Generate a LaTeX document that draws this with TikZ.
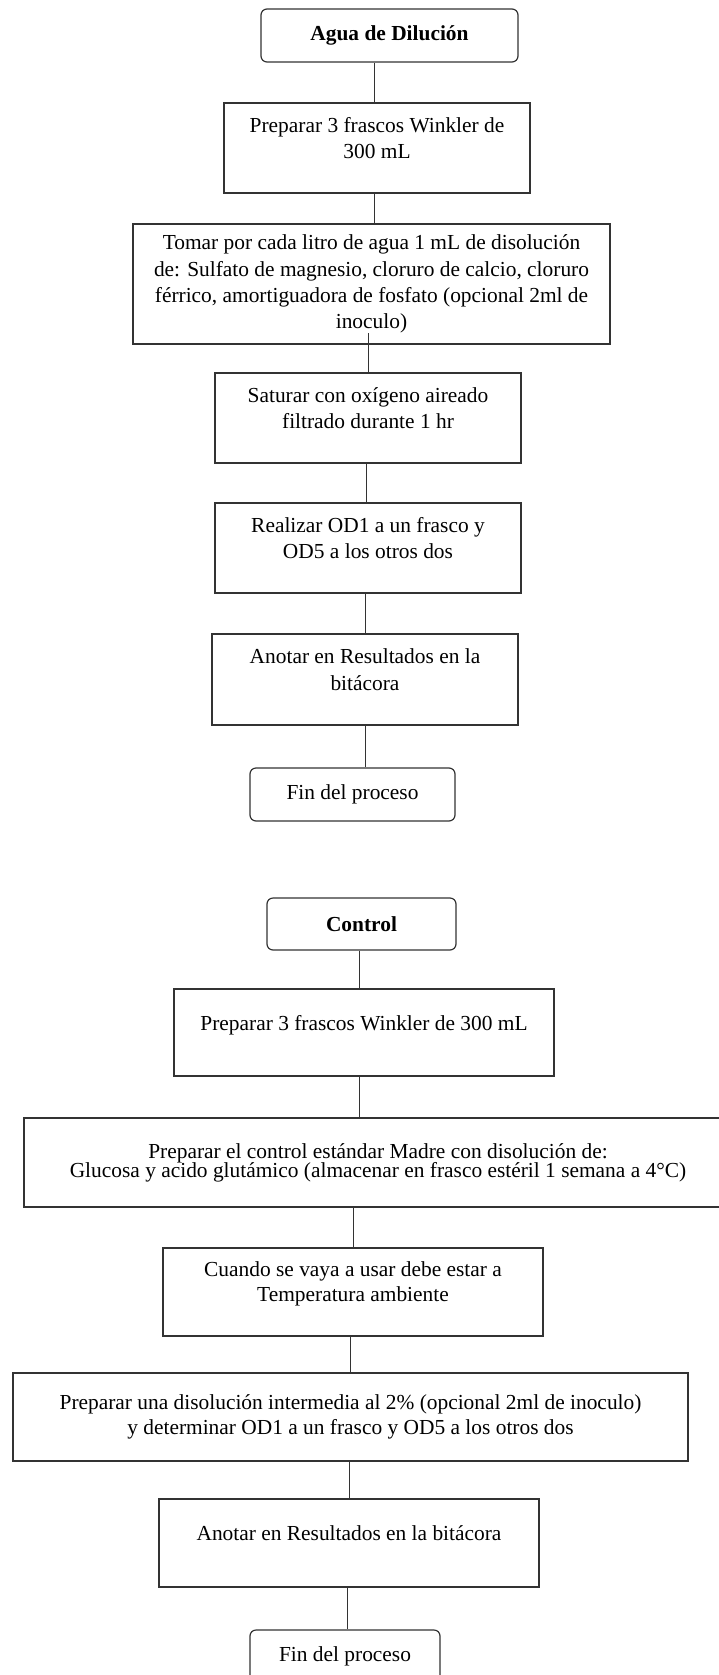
\documentclass[tikz,border=0pt]{standalone}
\usepackage{fontspec}
\setmainfont{Liberation Serif}
\setlength{\lineskiplimit}{-10pt}
\begin{document}
\begin{tikzpicture}[x=0.5pt,y=-0.5pt]
        \tikzstyle{every node}=[font=\fontsize{10.7}{13.4}\selectfont, align=center, inner sep=0pt]
        \tikzstyle{linea}=[draw=black!80, line width=0.6pt]
        \tikzstyle{inicio}=[linea, rounded corners=3pt]
        \tikzstyle{paso}=[linea]
        \tikzstyle{pasoarriba}=[linea, execute at end node={\rule[-10pt]{0pt}{10pt}}]
        \tikzstyle{conector}=[draw=black!80, line width=0.5pt]
        \useasboundingbox (0,0) rectangle (718,1675);
        % Agua de Dilucion
        \node[inicio, minimum width=128.5pt, minimum height=26.5pt, font=\fontsize{10.7}{13.4}\selectfont\bfseries] (agua) at (389.5,35.5) {Agua de Dilución};
        \node[pasoarriba, minimum width=153pt, minimum height=45pt] (frascos) at (377,148) {Preparar 3 frascos Winkler de\\300 mL};
        \node[paso, minimum width=238.5pt, minimum height=60pt, font=\fontsize{10.7}{13.1}\selectfont] (tomar) at (371.5,284) {Tomar por cada litro de agua 1 mL de disolución\\de: Sulfato de magnesio, cloruro de calcio, cloruro\\férrico, amortiguadora de fosfato (opcional 2ml de\\inoculo)};
        \node[pasoarriba, minimum width=153pt, minimum height=45pt] (saturar) at (368,418) {Saturar con oxígeno aireado\\filtrado durante 1 hr};
        \node[pasoarriba, minimum width=153pt, minimum height=45pt] (realizar) at (368,548) {Realizar OD1 a un frasco y\\OD5 a los otros dos};
        \node[pasoarriba, minimum width=153pt, minimum height=45.5pt] (anotar) at (365,679.5) {Anotar en Resultados en la\\bitácora};
        \node[inicio, minimum width=102.5pt, minimum height=26.5pt] (fin) at (352.5,794.5) {Fin del proceso};
        \draw[conector] ([xshift=-1.5pt]frascos.north) -- ([xshift=-1.5pt]frascos.north |- agua.south);
        \draw[conector] ([xshift=-1.5pt]frascos.south) -- ([xshift=-1.5pt]frascos.south |- tomar.north);
        \draw[conector] (saturar.north) -- ([yshift=6pt]saturar.north |- tomar.south);
        \draw[conector] ([xshift=-1pt]realizar.north) -- ([xshift=-1pt]realizar.north |- saturar.south);
        \draw[conector] (anotar.north) -- (anotar.north |- realizar.south);
        \draw[conector] (anotar.south) -- (anotar.south |- fin.north);
        % Control
        \node[inicio, minimum width=94.5pt, minimum height=26pt, font=\fontsize{10.7}{13.4}\selectfont\bfseries] (control) at (361.5,924) {Control};
        \node[pasoarriba, minimum width=190pt, minimum height=43.5pt] (frascosb) at (364,1032.5) {Preparar 3 frascos Winkler de 300 mL};
        \node[paso, minimum width=354pt, minimum height=44.5pt, font=\fontsize{10.7}{9.6}\selectfont] (madre) at (378,1162.5) {Preparar el control estándar Madre con disolución de:\\Glucosa y acido glutámico (almacenar en frasco estéril 1 semana a 4°C)};
        \node[pasoarriba, minimum width=190pt, minimum height=44pt, font=\fontsize{10.7}{12.5}\selectfont] (cuando) at (353,1292) {Cuando se vaya a usar debe estar a\\Temperatura ambiente};
        \node[paso, minimum width=337.5pt, minimum height=44pt, font=\fontsize{10.7}{12.5}\selectfont] (intermedia) at (350.5,1417) {Preparar una disolución intermedia al 2\% (opcional 2ml de inoculo)\\y determinar OD1 a un frasco y OD5 a los otros dos};
        \node[pasoarriba, minimum width=190pt, minimum height=44pt] (anotarb) at (349,1543) {Anotar en Resultados en la bitácora};
        \node[inicio, minimum width=95pt, minimum height=26.5pt] (finb) at (345,1656.5) {Fin del proceso};
        \draw[conector] ([xshift=-1.25pt]control.south) -- ([xshift=-1.25pt]control.south |- frascosb.north);
        \draw[conector] ([xshift=-2.5pt]frascosb.south) -- ([xshift=-2.5pt]frascosb.south |- madre.north);
        \draw[conector] (cuando.north) -- (cuando.north |- madre.south);
        \draw[conector] (intermedia.north) -- (intermedia.north |- cuando.south);
        \draw[conector] (anotarb.north) -- (anotarb.north |- intermedia.south);
        \draw[conector] ([xshift=-1pt]anotarb.south) -- ([xshift=-1pt]anotarb.south |- finb.north);
\end{tikzpicture}
\end{document}
